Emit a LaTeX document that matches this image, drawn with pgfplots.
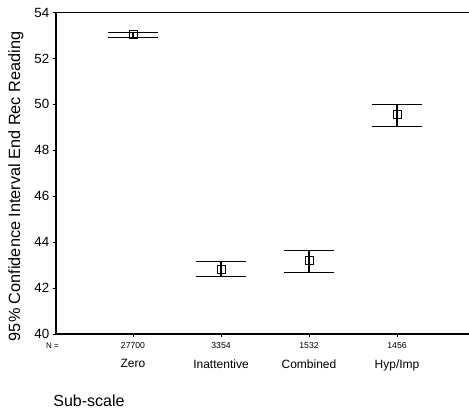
\documentclass[border=0pt]{standalone}
\usepackage{fontspec}
\setmainfont{Liberation Sans}
\usepackage{pgfplots}
\pgfplotsset{compat=1.18}
\usepackage{pgfplotstable}
\pgfplotstableread{
x y ep em
1 53.03 0.11 0.11
2 42.83 0.32 0.31
3 43.19 0.44 0.51
4 49.54 0.47 0.51
}\cidata
\begin{document}
\begin{tikzpicture}
\useasboundingbox (-42pt,-57.75pt) rectangle (309.75pt,250.5pt);
\begin{axis}[
  at={(0,0)}, anchor=south west,
  scale only axis, width=309.75pt, height=241.1pt,
  xmin=0.125, xmax=4.818, ymin=40, ymax=54,
  axis x line*=box, axis y line*=left,
  axis line style={line width=0.8pt},
  xtick={1,2,3,4}, xticklabels={27700,3354,1532,1456},
  xtick pos=left, ytick pos=left,
  ytick={40,42,...,54},
  tick align=outside, major tick length=2.5pt,
  tick style={line width=0.7pt, black},
  /pgf/number format/assume math mode=true,
  yticklabel style={font=\fontsize{10}{11}\selectfont, xshift=1pt},
  xticklabel style={font=\fontsize{6.5}{7}\selectfont},
  extra x ticks={1,2,3,4},
  extra x tick labels={Zero,Inattentive,Combined,Hyp/Imp},
  extra x tick style={major tick length=0pt, xticklabel style={font=\fontsize{9}{10}\selectfont, yshift=-15.5pt}},
  xlabel={Sub-scale},
  xlabel style={at={(axis description cs:0.0799,-0.2084)}, anchor=center, font=\fontsize{12}{14}\selectfont},
  ylabel={95\% Confidence Interval End Rec Reading},
  every axis y label/.style={at={(axis description cs:-0.0969,0.459)}, rotate=90, anchor=center, font=\fontsize{12.2}{14}\selectfont},
  clip=false,
]
\addplot[black, line width=0.7pt, only marks, mark=square, mark size=3pt, mark options={fill=white},
  error bars/.cd, y dir=both, y explicit,
  error bar style={line width=0.8pt, black},
  error mark options={rotate=90, mark size=19pt, line width=0.8pt, black}]
  table[x=x, y=y, y error plus=ep, y error minus=em]{\cidata};
\node[font=\fontsize{6}{7}\selectfont, anchor=center] at (axis description cs:-0.0085,-0.0373) {N =};
\end{axis}
\end{tikzpicture}
\end{document}
